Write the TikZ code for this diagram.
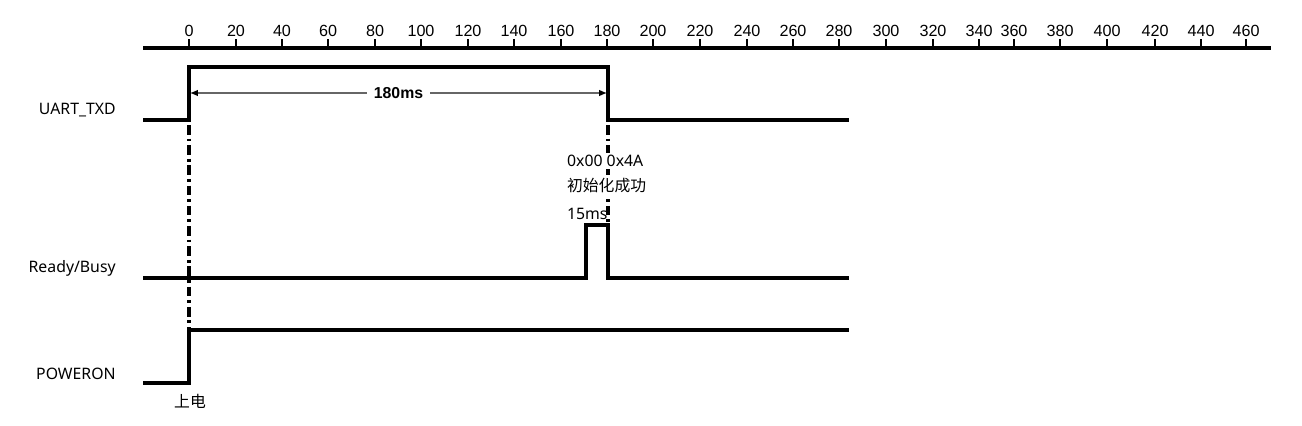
\documentclass[tikz,border=0pt]{standalone}
\usepackage{fontspec}
\setmainfont{Noto Sans}
\newfontfamily\cjk{Noto Sans CJK SC}
\newfontfamily\rulerfont{Liberation Sans}
\usetikzlibrary{arrows.meta}

\tikzset{
  signal/.style={line width=2.1pt, line join=miter},
  guide/.style={line width=1.9pt, dash pattern=on 5.5pt off 2.2pt on 1.6pt off 2.2pt},
  siglabel/.style={anchor=east, inner sep=0pt, font=\fontsize{9}{11}\selectfont},
  note/.style={anchor=west, inner sep=1pt, font=\fontsize{9}{11}\selectfont},
  ticklabel/.style={inner sep=0pt, font=\rulerfont\fontsize{9.2}{10}\selectfont},
  dim/.style={line width=0.7pt, draw=black!60, {Latex[length=4.5pt,width=3.8pt,black]}-{Latex[length=4.5pt,width=3.8pt,black]}},
}

\begin{document}
\begin{tikzpicture}[x=0.02cm, y=-0.02cm]
  \useasboundingbox (0,0) rectangle (1302,426);

  % Draw the time ruler
  \draw[line width=2.5pt] (143,48) -- (1271,48);
  \foreach \v/\x in {0/189,20/236,40/282,60/328,80/375,100/421,120/468,140/514,160/561,180/607,
                     200/653,220/700,240/747,260/793,280/839,300/886,320/933,340/979,360/1014,
                     380/1060,400/1107,420/1155,440/1201,460/1246} {
    \draw[line width=1.1pt] (\x,48) -- (\x,39);
    \node[ticklabel] (t\v) at (\x,31) {\v};
  }

  % Signal names
  \node[siglabel] (uart) at (116,110) {UART\_TXD};
  \node[siglabel] (ready) at (116,268) {Ready/Busy};
  \node[siglabel] (power) at (116,374) {POWERON};

  % Waveforms
  \draw[signal] (143,120) -- (189,120) -- (189,67) -- (608,67) -- (608,120) -- (849,120);
  \draw[signal] (143,278) -- (586,278) -- (586,225) -- (608,225) -- (608,278) -- (849,278);
  \draw[signal] (143,383) -- (189,383) -- (189,330) -- (849,330);

  % Alignment guides
  \draw[guide] (189,125) -- (189,328);
  \draw[guide] (608,125) -- (608,223);

  % Length of the UART frame
  \coordinate (s) at (190,93);
  \coordinate (e) at (607,93);
  \draw[dim] (s) -- (e) node[midway, fill=white, inner sep=4pt,
    font=\rulerfont\bfseries\fontsize{9}{10}\selectfont] (len) {180ms};

  % Notes
  \node[note, fill=white] (code) at (565,161) {0x00 0x4A};
  \node[note, fill=white] (init) at (565,186) {\cjk 初始化成功};
  \node[note] (busy) at (565,214) {15ms};
  \node[font=\cjk\fontsize{9}{11}\selectfont] (on) at (190,401) {上电};
\end{tikzpicture}
\end{document}
